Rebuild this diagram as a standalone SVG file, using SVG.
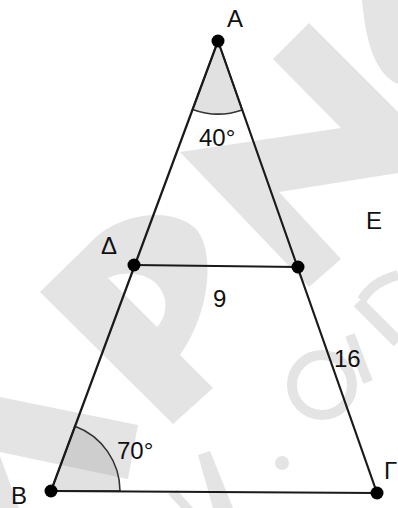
<svg xmlns="http://www.w3.org/2000/svg" width="398" height="508" viewBox="0 0 398 508">
<style>
.wm{fill:#e4e4e4;stroke:none}
.wms{fill:none;stroke:#e4e4e4}
.edge{stroke:#1a1a1a;stroke-width:2.2;fill:none;stroke-linecap:round}
.ang{fill:#9a9a9a;fill-opacity:0.3;stroke:#333;stroke-width:1.6}
.pt{fill:#000}
.lbl{font-family:"Liberation Sans",Arial,sans-serif;font-size:24px;fill:#111}
</style>
<rect width="398" height="508" fill="#fff"/>
<g id="watermark">
<path class="wm" d="M362,0 Q368,72 398,84 L398,0 Z"/>
<path class="wm" d="M180,152 L341,128 L273,59 L309,23 L398,112 L398,173 L279,192 L341,259 L309,287 Z"/>
<path class="wm" fill-rule="evenodd" d="M40,292 L93,240 C118,215 168,205 195,228 C215,248 212,310 180,355 L213,388 L173,424 Z M108,278 C130,268 160,275 165,300 C167,312 162,322 157,327 Z"/>
<path class="wm" d="M0,397 L138,425 L128,479 L0,452 Z"/>
<path class="wm" d="M0,456 L19,508 L0,508 Z"/>
<path class="wm" d="M198,455 L210,451 L233,508 L213,508 Z"/>
<path class="wm" d="M168,494 L177,490 L193,508 L181,508 Z"/>
<circle class="wms" cx="322" cy="385" r="30" stroke-width="10"/>
<line class="wms" x1="350" y1="335" x2="368" y2="382" stroke-width="10"/>
<line class="wms" x1="358" y1="302" x2="398" y2="342" stroke-width="12"/>
<path class="wms" d="M362,300 Q372,282 398,275" stroke-width="10"/>
<circle class="wm" cx="282" cy="463" r="7"/>
</g>
<g id="angles">
<path id="angle-A" class="ang" d="M218,41 L192.6,109.4 A73,73 0 0 0 242.2,109.9 Z"/>
<path id="angle-B" class="ang" d="M51,491 L75,426.3 A69,69 0 0 1 120,491 Z"/>
</g>
<g id="connectors">
<line class="edge" x1="218" y1="41" x2="51" y2="491"/>
<line class="edge" x1="218" y1="41" x2="377" y2="493"/>
<line class="edge" x1="51" y1="491" x2="377" y2="493"/>
<line class="edge" x1="134" y1="265" x2="298" y2="267"/>
</g>
<g id="node-A"><circle class="pt" cx="218" cy="41" r="6.5"/><text class="lbl" x="227" y="27">A</text></g>
<g id="node-B"><circle class="pt" cx="51" cy="491" r="6.5"/><text class="lbl" x="11" y="504">B</text></g>
<g id="node-G"><circle class="pt" cx="377" cy="493" r="6.5"/><text class="lbl" x="384" y="479">Γ</text></g>
<g id="node-D"><circle class="pt" cx="134" cy="265" r="6.5"/><text class="lbl" x="101" y="254">Δ</text></g>
<g id="node-E"><circle class="pt" cx="298" cy="267" r="6.5"/><text class="lbl" x="366" y="229">E</text></g>
<g id="labels">
<text class="lbl" x="199" y="146">40°</text>
<text class="lbl" x="213" y="307">9</text>
<text class="lbl" x="334" y="367">16</text>
<text class="lbl" x="117" y="459">70°</text>
</g>
</svg>
